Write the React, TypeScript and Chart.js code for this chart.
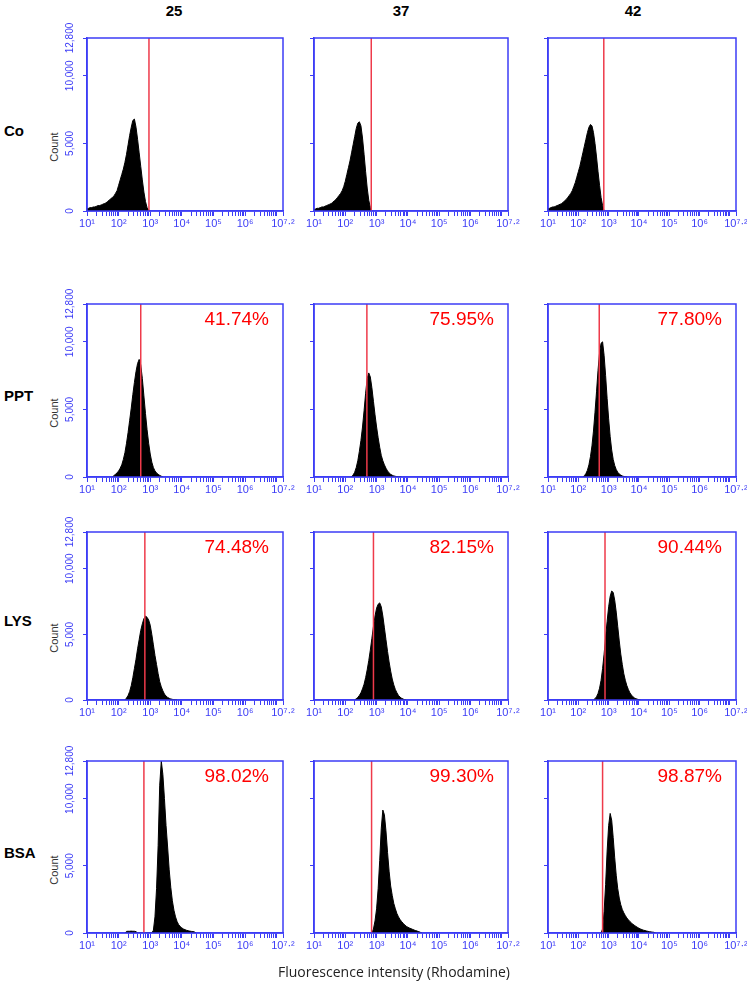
import React, { useEffect, useRef } from 'react';
import { Chart, registerables } from 'chart.js';
Chart.register(...registerables);

// ---------- axis settings ----------
const BIN = 0.05; // histogram bin width in log10 units
const X_MIN = 1;
const X_MAX = 7.2;
const Y_MAX = 12800;
const Y_TICKS = [0, 5000, 10000, 12800];
const X_LABEL_VALUES = [1, 2, 3, 4, 5, 6, 7.2];
const X_LABEL_TEXT = ['10¹', '10²', '10³', '10⁴', '10⁵', '10⁶', '10⁷·²'];
const X_MINOR_MULT = [1, 2, 3, 4, 5, 6, 7, 8, 9];
const X_DECADES = [1, 2, 3, 4, 5, 6];

// ---------- labels ----------
const TEMPS = ['25', '37', '42'];
const TREATMENTS = ['Co', 'PPT', 'LYS', 'BSA'];
const PERCENTS = [
  ['', '', ''],
  ['41.74%', '75.95%', '77.80%'],
  ['74.48%', '82.15%', '90.44%'],
  ['98.02%', '99.30%', '98.87%'],
];
const X_TITLE = 'Fluorescence intensity (Rhodamine)';
const Y_TITLE = 'Count';

// marker gate (log10 fluorescence)
const GATES = [
  [2.96, 2.83, 2.84],
  [2.7, 2.69, 2.69],
  [2.83, 2.9, 2.88],
  [2.8, 2.84, 2.8],
];

// ---------- histogram counts (bins of 0.05 log units from start) ----------
const co25Start = 1.0;
const co25 = [150, 200, 250, 250, 300, 300, 350, 400, 400, 450, 500, 550, 600, 700, 800, 900, 1000, 1100, 1300, 1500, 1900, 2300, 2700, 3100, 3600, 4200, 4900, 5600, 6200, 6700, 6800, 6200, 5300, 4300, 3300, 2300, 1400, 700, 250, 50, 0];
const co37Start = 1.0;
const co37 = [100, 150, 200, 200, 250, 300, 300, 350, 400, 450, 500, 550, 650, 750, 850, 1000, 1150, 1300, 1500, 1800, 2200, 2700, 3200, 3700, 4300, 4900, 5500, 6100, 6500, 6600, 6300, 5400, 4200, 2900, 1700, 800, 250, 0];
const co42Start = 1.0;
const co42 = [150, 200, 250, 300, 300, 350, 400, 450, 500, 550, 650, 750, 850, 1000, 1150, 1300, 1500, 1800, 2100, 2500, 2900, 3300, 3800, 4300, 4800, 5300, 5800, 6200, 6400, 6300, 5800, 5000, 4000, 2900, 1900, 1000, 400, 0];

const ppt25Start = 1.8;
const ppt25 = [0, 100, 200, 300, 450, 650, 900, 1300, 1800, 2500, 3300, 4200, 5100, 6100, 7000, 7800, 8400, 8700, 8300, 7300, 6000, 4700, 3500, 2500, 1700, 1100, 700, 450, 300, 200, 120, 60, 0];
const ppt37Start = 2.2;
const ppt37 = [0, 150, 350, 700, 1200, 1900, 2700, 3700, 4900, 6200, 7300, 7700, 7400, 6600, 5600, 4600, 3700, 2900, 2200, 1600, 1200, 900, 650, 450, 300, 200, 130, 80, 50, 30, 20, 10, 0];
const ppt42Start = 2.15;
const ppt42 = [0, 100, 250, 500, 900, 1500, 2300, 3400, 4800, 6300, 7900, 9200, 9900, 10000, 9000, 7500, 5800, 4300, 3000, 2000, 1300, 850, 550, 350, 220, 140, 80, 40, 20, 0];

const lys25Start = 2.2;
const lys25 = [0, 150, 350, 650, 1100, 1700, 2400, 3100, 3900, 4600, 5300, 5800, 6200, 6400, 6300, 6100, 5700, 5000, 4200, 3400, 2700, 2000, 1400, 1000, 700, 450, 300, 200, 130, 80, 50, 30, 20, 0];
const lys37Start = 2.3;
const lys37 = [0, 100, 200, 350, 550, 850, 1200, 1700, 2300, 3000, 3800, 4700, 5600, 6400, 7000, 7300, 7400, 7100, 6400, 5500, 4600, 3700, 2900, 2200, 1600, 1150, 800, 550, 350, 220, 130, 70, 30, 0];
const lys42Start = 2.5;
const lys42 = [0, 100, 250, 500, 900, 1500, 2400, 3500, 4800, 6000, 7100, 7900, 8300, 8200, 7600, 6700, 5600, 4500, 3500, 2700, 2000, 1500, 1100, 800, 550, 380, 250, 160, 100, 60, 30, 0];

const bsa25Start = 2.2;
const bsa25 = [0, 120, 130, 130, 140, 130, 130, 100, 0, 0, 0, 0, 0, 0, 0, 0, 0, 0, 200, 1200, 3300, 6500, 11000, 12800, 11800, 10000, 8000, 6400, 4700, 3400, 2400, 1700, 1200, 850, 620, 480, 380, 300, 250, 200, 170, 140, 120, 110, 80, 0];
const bsa37Start = 2.85;
const bsa37 = [0, 300, 900, 1800, 3300, 5400, 7800, 9150, 8800, 7600, 6000, 4600, 3500, 2800, 2200, 1800, 1450, 1200, 1000, 850, 720, 600, 500, 430, 370, 320, 270, 220, 180, 140, 100, 50, 0];
const bsa42Start = 2.75;
const bsa42 = [0, 300, 1600, 3600, 6100, 8000, 8900, 8400, 7100, 5600, 4300, 3300, 2600, 2100, 1750, 1500, 1300, 1120, 980, 860, 750, 650, 570, 490, 420, 350, 300, 250, 210, 180, 150, 120, 100, 80, 65, 50, 0];

const HISTS = [
  [{ start: co25Start, values: co25 }, { start: co37Start, values: co37 }, { start: co42Start, values: co42 }],
  [{ start: ppt25Start, values: ppt25 }, { start: ppt37Start, values: ppt37 }, { start: ppt42Start, values: ppt42 }],
  [{ start: lys25Start, values: lys25 }, { start: lys37Start, values: lys37 }, { start: lys42Start, values: lys42 }],
  [{ start: bsa25Start, values: bsa25 }, { start: bsa37Start, values: bsa37 }, { start: bsa42Start, values: bsa42 }],
];

// ---------- layout ----------
const PLOT_L = [87, 314, 548];
const PLOT_R = [283, 508, 736];
const PLOT_T = [38, 304, 532, 761];
const PLOT_B = [211, 477, 700, 933];
const M_LEFT = 45;
const M_RIGHT = 16;
const M_TOP = 22;
const M_BOTTOM = 30;

const BLUE = '#3c3cf6';
const RED = '#ee3a4a';
const FONT = "'Liberation Sans', Arial, sans-serif";

const frame = {
  id: 'frame',
  afterDraw(chart: any) {
    const { ctx, chartArea: a } = chart;
    ctx.save();
    ctx.strokeStyle = BLUE;
    ctx.lineWidth = 1.5;
    ctx.strokeRect(a.left, a.top, a.right - a.left, a.bottom - a.top);
    ctx.restore();
  },
};

function xTickValues() {
  const out: number[] = [];
  X_DECADES.forEach((d) => X_MINOR_MULT.forEach((m) => out.push(d + Math.log10(m))));
  out.push(7, 7.2);
  return out;
}

function Panel({ row, col }: { row: number; col: number }) {
  const ref = useRef<HTMLCanvasElement>(null);
  const pw = PLOT_R[col] - PLOT_L[col];
  const ph = PLOT_B[row] - PLOT_T[row];
  const w = pw + M_LEFT + M_RIGHT;
  const h = ph + M_TOP + M_BOTTOM;

  useEffect(() => {
    const hist = HISTS[row][col];
    const gate = GATES[row][col];
    const chart = new Chart(ref.current as HTMLCanvasElement, {
      type: 'line',
      data: {
        datasets: [
          {
            data: [
              { x: gate, y: 0 },
              { x: gate, y: Y_MAX },
            ],
            borderColor: RED,
            borderWidth: 1.5,
            pointRadius: 0,
            fill: false,
          },
          {
            data: hist.values.map((v, i) => ({ x: hist.start + i * BIN, y: v })),
            borderColor: '#000',
            backgroundColor: '#000',
            borderWidth: 1,
            pointRadius: 0,
            tension: 0,
            fill: 'origin',
          },
        ],
      },
      options: {
        animation: false,
        responsive: false,
        devicePixelRatio: 1,
        events: [],
        layout: { padding: { left: 0, top: M_TOP, right: M_RIGHT, bottom: 0 } },
        plugins: { legend: { display: false }, tooltip: { enabled: false } },
        scales: {
          x: {
            type: 'linear',
            min: X_MIN,
            max: X_MAX,
            afterBuildTicks: (s: any) => {
              s.ticks = xTickValues().map((v) => ({ value: v }));
            },
            afterFit: (s: any) => {
              s.height = M_BOTTOM;
            },
            ticks: {
              autoSkip: false,
              maxRotation: 0,
              minRotation: 0,
              padding: 1,
              color: BLUE,
              font: { family: FONT, size: 11 },
              callback: (v: any) => {
                const idx = X_LABEL_VALUES.findIndex((x) => Math.abs(x - Number(v)) < 1e-6);
                return idx >= 0 ? X_LABEL_TEXT[idx] : '';
              },
            },
            grid: { drawOnChartArea: false, drawTicks: true, tickLength: 5, color: BLUE, lineWidth: 1 },
            border: { color: BLUE, width: 1.5 },
          },
          y: {
            type: 'linear',
            min: 0,
            max: Y_MAX,
            afterBuildTicks: (s: any) => {
              s.ticks = Y_TICKS.map((v) => ({ value: v }));
            },
            afterFit: (s: any) => {
              s.width = M_LEFT;
            },
            ticks: {
              display: col === 0,
              minRotation: 90,
              maxRotation: 90,
              crossAlign: 'center',
              padding: -3,
              color: BLUE,
              font: { family: FONT, size: 10 },
              callback: (v: any) => Number(v).toLocaleString('en-US'),
            },
            grid: { drawOnChartArea: false, drawTicks: true, tickLength: 4, color: BLUE, lineWidth: 1 },
            border: { color: BLUE, width: 1.5 },
          },
        },
      },
      plugins: [frame],
    } as any);
    return () => chart.destroy();
  }, [row, col]);

  return (
    <canvas
      ref={ref}
      width={w}
      height={h}
      style={{
        position: 'absolute',
        left: PLOT_L[col] - M_LEFT,
        top: PLOT_T[row] - M_TOP,
        width: w,
        height: h,
      }}
    />
  );
}

const HEADER_X = [174, 401, 633];

export default function App() {
  return (
    <div
      style={{
        position: 'absolute',
        left: 0,
        top: 0,
        width: 747,
        height: 992,
        background: '#fff',
        fontFamily: FONT,
        overflow: 'hidden',
      }}
    >
      {TEMPS.map((t, c) => (
        <div
          key={'t' + c}
          style={{
            position: 'absolute',
            left: HEADER_X[c] - 30,
            width: 60,
            top: 2,
            textAlign: 'center',
            fontWeight: 'bold',
            fontSize: 15,
            lineHeight: '18px',
            color: '#000',
          }}
        >
          {t}
        </div>
      ))}
      {TREATMENTS.map((t, r) => {
        const mid = PLOT_B[r] - ((PLOT_B[r] - PLOT_T[r]) * 5000) / Y_MAX;
        return (
          <React.Fragment key={'r' + r}>
            <div
              style={{
                position: 'absolute',
                left: 4,
                top: r === 0 ? 122 : mid - 22,
                fontWeight: 'bold',
                fontSize: 15,
                lineHeight: '18px',
                color: '#000',
              }}
            >
              {t}
            </div>
            <div
              style={{
                position: 'absolute',
                left: 54 - 30,
                top: mid + 4 - 7,
                width: 60,
                height: 14,
                lineHeight: '14px',
                textAlign: 'center',
                fontSize: 11,
                color: '#333',
                transform: 'rotate(-90deg)',
              }}
            >
              {Y_TITLE}
            </div>
          </React.Fragment>
        );
      })}
      {TREATMENTS.map((_, r) =>
        TEMPS.map((__, c) => <Panel key={r + '-' + c} row={r} col={c} />)
      )}
      {PERCENTS.map((rowP, r) =>
        rowP.map((p, c) =>
          p ? (
            <div
              key={'p' + r + c}
              style={{
                position: 'absolute',
                left: PLOT_R[c] - 114,
                width: 100,
                top: PLOT_T[r] + 4,
                textAlign: 'right',
                fontSize: 19,
                lineHeight: '22px',
                color: '#ff0000',
              }}
            >
              {p}
            </div>
          ) : null
        )
      )}
      <div
        style={{
          position: 'absolute',
          left: 194,
          width: 400,
          top: 962,
          textAlign: 'center',
          fontFamily: "'Open Sans', sans-serif",
          fontSize: 14,
          lineHeight: '20px',
          color: '#222',
        }}
      >
        {X_TITLE}
      </div>
    </div>
  );
}
